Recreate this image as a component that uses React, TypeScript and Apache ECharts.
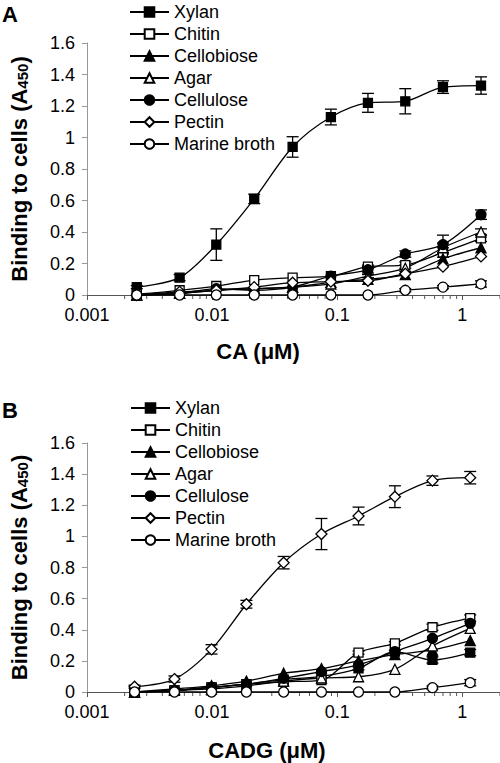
import React, { useEffect, useRef } from 'react';
import * as echarts from 'echarts';

const FONT = '"Liberation Sans", Arial, Helvetica, sans-serif';

const seriesNames = ['Xylan', 'Chitin', 'Cellobiose', 'Agar', 'Cellulose', 'Pectin', 'Marine broth'];

// Panel A: CA concentrations (µM)
const xA = [0.0025, 0.0055, 0.0108, 0.0217, 0.044, 0.089, 0.176, 0.35, 0.7, 1.41];
const xylanA = [0.05, 0.11, 0.32, 0.61, 0.94, 1.13, 1.22, 1.23, 1.32, 1.33];
const chitinA = [0.005, 0.03, 0.057, 0.095, 0.11, 0.12, 0.18, 0.19, 0.27, 0.36];
const cellobioseA = [0, 0.01, 0.03, 0.04, 0.05, 0.08, 0.1, 0.13, 0.23, 0.3];
const agarA = [0, 0.01, 0.03, 0.04, 0.05, 0.07, 0.12, 0.17, 0.3, 0.4];
const celluloseA = [0, 0.01, 0.04, 0.03, 0.05, 0.12, 0.16, 0.26, 0.32, 0.51];
const pectinA = [0, 0.02, 0.03, 0.05, 0.078, 0.085, 0.09, 0.135, 0.18, 0.245];
const marineA = [0, 0, 0, 0, 0, 0, 0, 0.03, 0.05, 0.07];
const xylanAErr = [0.01, 0.02, 0.1, 0.03, 0.065, 0.05, 0.06, 0.08, 0.04, 0.055];
const chitinAErr = [0, 0, 0, 0, 0, 0, 0.01, 0.02, 0.03, 0.02];
const celluloseAErr = [0, 0, 0, 0, 0, 0, 0.02, 0.02, 0.06, 0.03];
const agarAErr = [0, 0, 0, 0, 0, 0, 0.01, 0.02, 0.03, 0.02];
const marineAErr = [0, 0, 0, 0, 0, 0, 0, 0.01, 0.01, 0.02];

// Panel B: CADG concentrations (µM)
const xB = [0.0024, 0.005, 0.0099, 0.0188, 0.0373, 0.0748, 0.148, 0.289, 0.577, 1.156];
const xylanB = [0, 0.01, 0.03, 0.05, 0.08, 0.1, 0.152, 0.259, 0.206, 0.253];
const chitinB = [0, 0.01, 0.03, 0.05, 0.066, 0.077, 0.253, 0.313, 0.416, 0.475];
const cellobioseB = [0, 0.02, 0.04, 0.07, 0.12, 0.15, 0.2, 0.24, 0.27, 0.33];
const agarB = [0, 0.01, 0.02, 0.04, 0.07, 0.09, 0.098, 0.146, 0.296, 0.409];
const celluloseB = [0, 0.01, 0.03, 0.05, 0.088, 0.131, 0.174, 0.259, 0.345, 0.441];
const pectinB = [0.034, 0.083, 0.274, 0.564, 0.831, 1.015, 1.131, 1.255, 1.358, 1.377];
const marineB = [0, 0, 0, 0, 0, 0, 0, 0, 0.028, 0.06];
const pectinBErr = [0.01, 0.02, 0.03, 0.025, 0.04, 0.1, 0.057, 0.07, 0.03, 0.04];
const chitinBErr = [0, 0, 0, 0, 0, 0, 0.01, 0.01, 0.02, 0.02];
const xylanBErr = [0, 0, 0, 0, 0, 0, 0.01, 0.01, 0.02, 0.02];
const marineBErr = [0, 0, 0, 0, 0, 0, 0, 0, 0.01, 0.02];

const yTicks = [0, 0.2, 0.4, 0.6, 0.8, 1, 1.2, 1.4, 1.6];
const minorTickValues = [
  0.002, 0.003, 0.004, 0.005, 0.006, 0.007, 0.008, 0.009,
  0.02, 0.03, 0.04, 0.05, 0.06, 0.07, 0.08, 0.09,
  0.2, 0.3, 0.4, 0.5, 0.6, 0.7, 0.8, 0.9,
  2,
];

const markerStyle: Record<string, { symbol: string; filled: boolean; size: number }> = {
  Xylan: { symbol: 'rect', filled: true, size: 9 },
  Chitin: { symbol: 'rect', filled: false, size: 9 },
  Cellobiose: { symbol: 'triangle', filled: true, size: 10 },
  Agar: { symbol: 'triangle', filled: false, size: 10 },
  Cellulose: { symbol: 'circle', filled: true, size: 10 },
  Pectin: { symbol: 'diamond', filled: false, size: 11 },
  'Marine broth': { symbol: 'circle', filled: false, size: 10 },
};

const panelA = [xylanA, chitinA, cellobioseA, agarA, celluloseA, pectinA, marineA];
const panelB = [xylanB, chitinB, cellobioseB, agarB, celluloseB, pectinB, marineB];
const errA: [number[], number[]][] = [
  [xylanA, xylanAErr], [chitinA, chitinAErr], [celluloseA, celluloseAErr], [agarA, agarAErr], [marineA, marineAErr],
];
const errB: [number[], number[]][] = [
  [pectinB, pectinBErr], [chitinB, chitinBErr], [xylanB, xylanBErr], [marineB, marineBErr],
];

function fmtLog(v: number) {
  return String(parseFloat(v.toPrecision(6)));
}

function lineSeries(xs: number[], ys: number[], name: string, idx: number) {
  const m = markerStyle[name];
  return {
    type: 'line',
    name,
    xAxisIndex: idx,
    yAxisIndex: idx,
    data: xs.map((x, i) => [x, ys[i]]),
    smooth: 0.3,
    symbol: m.symbol,
    symbolSize: m.size,
    showSymbol: true,
    clip: false,
    lineStyle: { color: '#000', width: 1.3 },
    itemStyle: { color: m.filled ? '#000' : '#fff', borderColor: '#000', borderWidth: 1.3 },
    emphasis: { disabled: true },
    z: 3,
  };
}

function errorSeries(xs: number[], pairs: [number[], number[]][], idx: number) {
  const rows: number[][] = [];
  pairs.forEach(([ys, es]) => {
    xs.forEach((x, i) => {
      if (es[i] > 0) rows.push([x, ys[i], es[i]]);
    });
  });
  return {
    type: 'custom',
    xAxisIndex: idx,
    yAxisIndex: idx,
    silent: true,
    clip: false,
    z: 2,
    data: rows,
    renderItem: (_p: any, api: any) => {
      const x = api.value(0);
      const y = api.value(1);
      const e = api.value(2);
      const t = api.coord([x, y + e]);
      const b = api.coord([x, Math.max(y - e, 0)]);
      const hw = 6;
      const st = { stroke: '#000', lineWidth: 1.3 };
      return {
        type: 'group',
        children: [
          { type: 'line', shape: { x1: t[0], y1: t[1], x2: b[0], y2: b[1] }, style: st },
          { type: 'line', shape: { x1: t[0] - hw, y1: t[1], x2: t[0] + hw, y2: t[1] }, style: st },
          { type: 'line', shape: { x1: b[0] - hw, y1: b[1], x2: b[0] + hw, y2: b[1] }, style: st },
        ],
      };
    },
  };
}

function minorTickSeries(idx: number) {
  return {
    type: 'custom',
    xAxisIndex: idx,
    yAxisIndex: idx,
    silent: true,
    clip: false,
    z: 1,
    data: minorTickValues.map((v) => [v, 0]),
    renderItem: (_p: any, api: any) => {
      const p = api.coord([api.value(0), 0]);
      return {
        type: 'line',
        shape: { x1: p[0], y1: p[1], x2: p[0], y2: p[1] + 4 },
        style: { stroke: '#555', lineWidth: 1 },
      };
    },
  };
}

function xAxisCfg(idx: number) {
  return {
    type: 'log',
    logBase: 10,
    gridIndex: idx,
    min: 0.001,
    max: 2,
    axisLine: { show: true, onZero: false, lineStyle: { color: '#555', width: 1 } },
    axisTick: { show: true, length: 5, lineStyle: { color: '#555' } },
    axisLabel: {
      fontSize: 18,
      lineHeight: 18,
      color: '#000',
      fontFamily: FONT,
      margin: 11,
      showMaxLabel: false,
      formatter: (v: number) => fmtLog(v),
    },
    splitLine: { show: false },
    minorTick: { show: false },
  };
}

function yAxisCfg(idx: number) {
  return {
    type: 'value',
    gridIndex: idx,
    min: yTicks[0],
    max: yTicks[yTicks.length - 1],
    interval: yTicks[1] - yTicks[0],
    axisLine: { show: true, lineStyle: { color: '#999', width: 1 } },
    axisTick: { show: true, length: 5, lineStyle: { color: '#999' } },
    axisLabel: { fontSize: 18, lineHeight: 16, color: '#000', fontFamily: FONT, margin: 12 },
    splitLine: { show: false },
    name: '{a|Binding to cells (A}{s|450}{a|)}',
    nameLocation: 'middle',
    nameGap: 57,
    nameRotate: 90,
    nameTextStyle: {
      rich: {
        a: { fontSize: 22, fontWeight: 'bold', color: '#000', fontFamily: FONT },
        s: { fontSize: 15, fontWeight: 'bold', color: '#000', fontFamily: FONT, verticalAlign: 'bottom', padding: [6, 0, 0, 0] },
      },
    },
  };
}

function legendCfg(top: number, left: number) {
  return {
    orient: 'vertical',
    left,
    top,
    itemWidth: 39,
    itemHeight: 12,
    itemGap: 2,
    selectedMode: false,
    data: seriesNames,
    textStyle: { fontSize: 18, color: '#000', fontFamily: FONT, lineHeight: 20 },
  };
}

export default function App() {
  const ref = useRef<HTMLDivElement>(null);
  useEffect(() => {
    if (!ref.current) return;
    const chart = echarts.init(ref.current, null, { renderer: 'svg' });
    const series: any[] = [];
    series.push(minorTickSeries(0), minorTickSeries(1));
    series.push(errorSeries(xA, errA, 0), errorSeries(xB, errB, 1));
    seriesNames.forEach((n, i) => series.push(lineSeries(xA, panelA[i], n, 0)));
    seriesNames.forEach((n, i) => series.push(lineSeries(xB, panelB[i], n, 1)));
    chart.setOption({
      animation: false,
      backgroundColor: '#fff',
      grid: [
        { left: 78, top: 43, width: 429, height: 252, containLabel: false },
        { left: 78, top: 443, width: 444, height: 249, containLabel: false },
      ],
      xAxis: [xAxisCfg(0), xAxisCfg(1)],
      yAxis: [yAxisCfg(0), yAxisCfg(1)],
      legend: [legendCfg(-3, 124), legendCfg(393, 125)],
      graphic: [
        { type: 'text', left: 2, top: 3, style: { text: 'A', fontSize: 22, fontWeight: 'bold', fill: '#000', fontFamily: FONT } },
        { type: 'text', left: 2, top: 399, style: { text: 'B', fontSize: 22, fontWeight: 'bold', fill: '#000', fontFamily: FONT } },
        { type: 'text', x: 258, y: 351, style: { text: 'CA (μM)', fontSize: 22, fontWeight: 'bold', fill: '#000', fontFamily: FONT, align: 'center', verticalAlign: 'middle' } },
        { type: 'text', x: 267, y: 750, style: { text: 'CADG (μM)', fontSize: 22, fontWeight: 'bold', fill: '#000', fontFamily: FONT, align: 'center', verticalAlign: 'middle' } },
      ],
      series,
    });
    return () => chart.dispose();
  }, []);
  return <div ref={ref} style={{ position: 'absolute', left: 0, top: 0, width: 500, height: 763, overflow: 'hidden' }} />;
}
